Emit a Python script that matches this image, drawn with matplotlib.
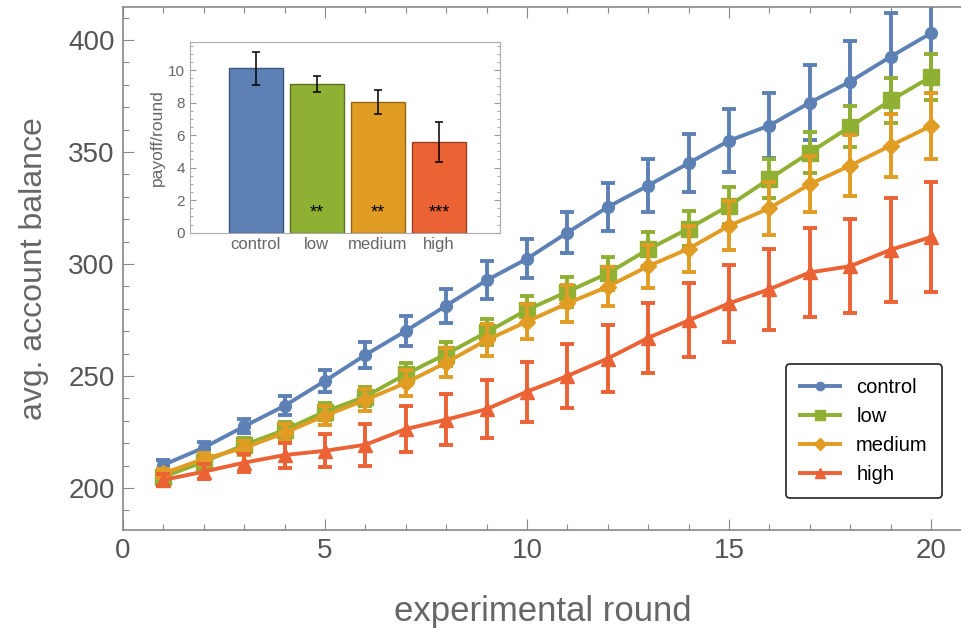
import matplotlib.pyplot as plt
from matplotlib.ticker import MultipleLocator

plt.rcParams['font.family'] = ['Liberation Sans', 'DejaVu Sans']

rounds = list(range(1, 21))

control = [210.3, 218.0, 227.5, 236.7, 247.8, 259.4, 270.1, 281.4, 292.7, 302.3,
           314.0, 325.4, 335.0, 345.0, 355.0, 361.8, 372.0, 381.4, 392.5, 403.0]
control_err = [2.0, 2.5, 3.1, 4.2, 5.0, 5.8, 6.8, 7.6, 8.4, 8.7,
               9.0, 10.7, 11.8, 13.0, 14.0, 14.7, 16.6, 18.2, 19.4, 22.0]

low = [205.0, 211.7, 219.2, 225.9, 234.1, 240.8, 250.8, 259.8, 269.5, 279.5,
       287.6, 295.8, 306.5, 315.8, 326.0, 338.0, 349.7, 361.3, 373.0, 383.5]
low_err = [2.2, 2.6, 3.0, 3.4, 3.8, 4.3, 4.8, 5.3, 5.8, 6.3,
           6.8, 7.2, 7.6, 8.0, 8.3, 8.7, 9.0, 9.3, 10.2, 10.4]

medium = [206.5, 213.0, 217.9, 224.6, 232.3, 239.3, 246.9, 256.0, 266.0, 274.3,
          282.4, 289.9, 299.0, 306.8, 317.0, 324.9, 335.6, 343.9, 352.8, 361.6]
medium_err = [2.2, 2.6, 3.2, 3.8, 4.4, 5.0, 5.8, 6.6, 7.2, 7.8,
              8.3, 8.8, 9.6, 10.3, 10.9, 11.9, 12.6, 13.5, 14.1, 14.7]

high = [203.6, 207.3, 211.3, 214.7, 216.6, 219.3, 226.3, 230.5, 235.2, 243.0,
        250.0, 257.8, 267.0, 274.8, 282.4, 288.7, 296.2, 299.0, 306.3, 312.0]
high_err = [2.6, 3.2, 4.0, 5.6, 7.4, 9.3, 10.4, 11.5, 13.0, 13.4,
            14.3, 15.1, 15.6, 16.5, 17.3, 18.2, 19.7, 21.0, 23.2, 24.6]

series_names = ['control', 'low', 'medium', 'high']
colors = ['#5E81B5', '#8FB032', '#E19C24', '#EB6235']
markers = ['o', 's', 'D', '^']
msizes = [8.5, 11, 8.5, 10.5]

# inset bar chart
payoff = [10.1, 9.14, 8.05, 5.58]
payoff_err = [1.03, 0.51, 0.75, 1.25]
stars = ['', '**', '**', '***']

gray = '#666666'

fig = plt.figure(figsize=(9.62, 6.28), dpi=100)
ax = fig.add_axes([123 / 962, 98 / 628, 839 / 962, 523 / 628])

for vals, errs, c, m, ms, name in zip([control, low, medium, high],
                                      [control_err, low_err, medium_err, high_err],
                                      colors, markers, msizes, series_names):
    ax.errorbar(rounds, vals, yerr=errs, color=c, lw=2.8, elinewidth=2.8,
                capsize=4.8, capthick=2.8, fmt='none')
    ax.plot(rounds, vals, color=c, lw=2.8, marker=m, ms=ms, label=name)

ax.set_xlim(0, 20.77)
ax.set_ylim(181.25, 414.7)
ax.xaxis.set_major_locator(MultipleLocator(5))
ax.xaxis.set_minor_locator(MultipleLocator(1))
ax.yaxis.set_major_locator(MultipleLocator(50))
ax.yaxis.set_minor_locator(MultipleLocator(10))
ax.tick_params(which='both', direction='in', top=True, colors='#888888',
               labelcolor='#555555', width=0.8)
ax.tick_params(which='major', length=8, labelsize=20, pad=6)
ax.tick_params(which='minor', length=4)
ax.spines['right'].set_visible(False)
for s in ['left', 'bottom', 'top']:
    ax.spines[s].set_color('#888888')
    ax.spines[s].set_linewidth(1.2)
ax.set_xlabel('experimental round', fontsize=25, color=gray, labelpad=22)
ax.set_ylabel('avg. account balance', fontsize=23, color=gray, labelpad=14)

leg = ax.legend(loc='lower right', bbox_to_anchor=(0.976, 0.061), borderaxespad=0,
                fontsize=14.5, frameon=True, fancybox=True, edgecolor='#222222',
                handlelength=2.0, markerscale=0.7, labelspacing=0.5,
                borderpad=0.7)
leg.get_frame().set_linewidth(1.2)
leg.get_frame().set_alpha(1)

# inset
ins = fig.add_axes([190 / 962, 395.3 / 628, 310 / 962, 191 / 628])
pos = [1, 2, 3, 4]
edge = ['#3d5677', '#5c7220', '#936617', '#993f22']
ins.bar(pos, payoff, width=0.89, color=colors, edgecolor=edge, linewidth=1.0)
ins.errorbar(pos, payoff, yerr=payoff_err, fmt='none', ecolor='black',
             elinewidth=1.1, capsize=3, capthick=1.1)
for p, s in zip(pos, stars):
    ins.text(p, 1.2, s, ha='center', va='center', fontsize=13, color='black')
ins.set_xlim(-0.08, 5.0)
ins.set_ylim(0, 11.74)
ins.set_xticks(pos)
ins.set_xticklabels(series_names)
ins.yaxis.set_major_locator(MultipleLocator(2))
ins.yaxis.set_minor_locator(MultipleLocator(0.5))
ins.tick_params(axis='y', which='both', direction='in', right=True,
                colors='#999999', labelcolor='#666666', labelsize=11)
ins.tick_params(axis='y', which='major', length=4)
ins.tick_params(axis='y', which='minor', length=2)
ins.tick_params(axis='x', length=0, labelsize=12, labelcolor='#666666', pad=3)
for s in ins.spines.values():
    s.set_color('#aaaaaa')
ins.set_ylabel('payoff/round', fontsize=12.5, color='#666666', labelpad=2)

fig.savefig('out.png', dpi=100)
